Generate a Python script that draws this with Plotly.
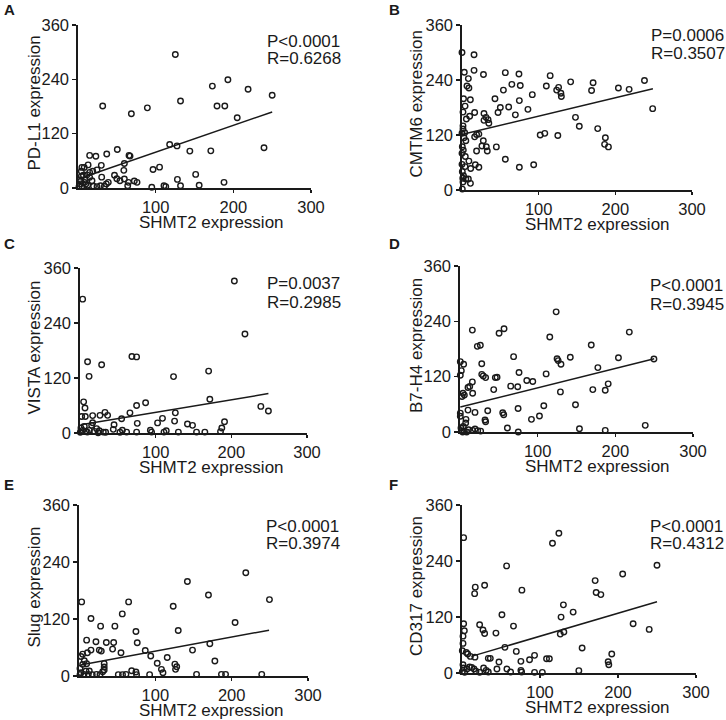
import plotly.graph_objects as go

W, H = 726, 720

# ---------------- data ----------------
x_label = "SHMT2 expression"
y_labels = ["PD-L1 expression", "CMTM6 expression", "VISTA expression",
            "B7-H4 expression", "Slug expression", "CD317 expression"]
panel_letters = ["A", "B", "C", "D", "E", "F"]
p_texts = ["P<0.0001", "P=0.0006", "P=0.0037", "P<0.0001", "P<0.0001", "P<0.0001"]
r_texts = ["R=0.6268", "R=0.3507", "R=0.2985", "R=0.3945", "R=0.3974", "R=0.4312"]
x_ticks = [100, 200, 300]
y_ticks = [0, 120, 240, 360]

a_x = [125.3, 31.8, 68.7, 89.3, 132, 173, 193, 219, 250, 179, 189, 205, 239.5, 171, 144, 118, 127.5,
       105, 96.6, 151.5, 128, 132, 156, 188, 110.7, 113, 95, 50.6, 37, 15, 23, 65.7, 67, 59.7, 30, 59,
       47, 50, 54, 59.7, 65, 72.5, 76, 64, 39, 36.5, 34, 30.5, 24.5, 19, 15, 13, 5, 8, 4.3, 4.3, 7, 11.6,
       3.4, 8.6, 12.4, 20, 24.5, 29, 5, 10, 2, 3, 1.3, 9.4, 18, 15]
a_y = [295, 181, 164, 177, 192, 225, 239, 218, 205, 181, 181, 155, 89, 82, 81.5, 96, 93,
       46, 41, 30, 19, 5, 6, 12.5, 5, 3, 1.5, 85, 75, 72, 70, 72, 70.5, 54, 50, 39,
       28, 20.5, 16, 20, 12.5, 15.4, 12.5, 5, 12.5, 9, 4, 24, 40, 37, 34.5, 51, 45.5, 45.5, 37, 26, 28, 29,
       15, 12.5, 6, 4, 3, 5, 4, 9, 18, 9, 3, 18, 16, 23.5]

b_x = [0, 15.7, 3, 15.7, 28, 8.3, 6.5, 9, 2, 10.9, 4, 1.3, 16.5, 10, 5.7, 28.7, 31.3, 34, 28.7, 35,
       1.3, 1.3, 3.5, 0, 2.6, 5, 16.5, 19, 22, 27.8, 26, 31.7, 33, 19, 44.8, 0.4, 1.7, 0, 4.3, 9, 0, 4,
       17.4, 22, 11.3, 0.4, 2, 1, 5, 8.3, 1.3, 11, 0.4, 56.5, 74.8, 93.5, 43, 47, 50, 54, 56.5, 60.9,
       65, 69.6, 74.3, 76, 74.8, 86, 91.7, 110, 115, 123.5, 126, 129, 129.6, 141.7, 102, 108, 125,
       148, 153, 169, 171, 177, 187, 186, 191, 204, 218, 238, 248.7]
b_y = [300, 295, 257, 261, 252, 243, 227, 222.5, 199, 197, 183, 170, 169, 161, 155, 167, 158.5, 153.5, 152, 145.5,
       140, 133, 125, 124, 114, 107.6, 116, 121, 122, 107.6, 96, 94.5, 85, 85, 94, 94.5, 87, 80, 73, 63, 56, 51,
       55, 49.5, 47, 40, 31, 25.5, 24, 24, 17.5, 14.5, 2, 67, 49.5, 55, 199, 169, 180, 218, 256, 181,
       230.5, 164, 253, 228, 195, 176, 208, 227, 249.5, 218, 224, 211, 204, 236, 120, 123.6, 119,
       158.5, 139, 217, 234, 134, 114, 99.6, 94, 222.5, 219.6, 239, 177.5]

c_x = [204, 3.5, 218, 10, 28.6, 12, 68.6, 74.8, 123.6, 170, 171.6, 239, 249, 4.8, 6.6, 2.2, 7, 16.7,
       26.4, 33, 36.5, 66, 74.8, 86.7, 126, 109, 102.5, 125, 75.7, 55, 45, 142, 148.7, 191, 187.4,
       185.7, 165, 154, 130, 114, 111, 93, 94.6, 74.8, 61.6, 52.8, 44, 56, 30.8, 33.9, 25.5, 22, 19,
       15.4, 16.7, 12.3, 8, 3.5, 1.3, 0.4, 5.7, 9.7, 24]
c_y = [331.6, 292, 216, 155.6, 149, 123.6, 167, 166, 123, 135, 73.5, 58, 48, 68, 54.5, 36, 36, 38,
       38.5, 45, 38.5, 44, 60, 66, 44, 32, 22, 26, 21, 31, 18, 19.6, 16.7, 24.7, 11,
       3, 2, 2, 2, 5, 2, 6, 2, 2, 2, 1.5, 8, 6, 2, 1.5, 5, 9.5, 3.6,
       16.7, 22.5, 5.8, 3, 5.8, 11, 1.5, 14.5, 2, 0.7]

d_x = [123.8, 15.9, 50.3, 56.7, 115.6, 218, 169, 22.3, 26.2, 69, 125, 126.4, 130, 142, 204, 249.7, 177.5,
       0.4, 4.7, 1.7, 0.4, 28, 28, 30, 33, 45.5, 47.7, 76, 110.9, 15.9, 10.3, 12.5, 65.3, 74.3, 43.4,
       86, 93.7, 190.8, 187, 171, 129.3, 16.3, 3.9, 5.6, 2.6, 107.9, 148.7, 10.3, 19.3, 35.7, 55, 56.3,
       74.8, 102.3, 92, 32.2, 33, 0.4, 0.4, 7.7, 7.3, 4.3, 1.3, 2, 5.6, 11, 16.3, 19.3, 22.8, 26.6,
       61, 75, 153.8, 187, 238.5, 3.4, 8.6]
d_y = [260.6, 221, 214, 224, 206, 216.7, 188.6, 185.7, 188, 163.4, 159, 154.8, 147, 162, 161, 158.4, 139.7,
       152.6, 147, 133, 123, 148, 125, 121.7, 118, 118, 118.8, 129, 126, 108.7, 96.5, 98.6, 99.4, 98, 92,
       111.6, 109.4, 104.4, 90.7, 92, 87, 84, 84, 80, 77, 57, 59, 47.5, 42.5, 46, 41.8, 37.4,
       51, 34.6, 27.4, 26, 22.3, 41, 34, 27.4, 19.4, 12, 8.6, 3, 2, 5, 3.6, 6.5, 3, 2,
       8.6, 0, 7.2, 3.6, 14.4, 0, 0]

e_x = [218.5, 142, 169.6, 249.5, 3.5, 65, 123.4, 56.7, 15.7, 28.3, 47, 204.5, 130, 74.6, 10, 22.2,
       35.8, 45.4, 76.3, 171.4, 26.6, 29.2, 15.7, 44, 55, 86.8, 94, 115.6, 148.7, 178, 11, 4.8, 2.6,
       7, 10, 4.8, 33, 33, 33, 31, 102.5, 108, 110, 125.6, 128, 126.5, 74.6, 69, 51.5, 57, 61.5, 75.4,
       92.5, 154, 186.6, 192, 239.4, 1.3, 2.6, 6.5, 9.2, 12.2, 17.4, 23, 27.5, 1.3, 13.5]
e_y = [217.4, 199, 170.6, 160.8, 156, 156, 146.8, 130.7, 121, 104.9, 104.9, 112.5, 95.8, 93.7, 75.5, 72,
       70.6, 70.6, 70, 67.8, 54.5, 52.4, 54.5, 56.6, 49, 53.8, 42, 39, 54.5, 31.5, 49, 46, 41,
       32, 26, 24.5, 26, 19, 12.6, 9, 27, 14, 7, 25, 19.6, 14, 8.4, 11, 2.8, 2.8, 3.5, 2.8,
       2.8, 3.5, 3.5, 3.5, 3.5, 16, 7, 3.5, 10.5, 3.5, 2.8, 3.5, 2.8, 2.8, 10.5]

f_x = [124.2, 116, 2.1, 57.2, 250, 206, 170.7, 172, 178, 29, 17, 16.2, 76.8, 130, 142.5, 51.2, 127,
       2.1, 3, 1.3, 22.6, 66, 219.4, 240, 26.9, 29, 43.5, 130.6, 126, 1.3, 0.4, 5.5, 7.3, 10.7, 16.6,
       55, 69.6, 154, 192, 93, 86.6, 75.5, 108.4, 112, 33.7, 36.3, 47.4, 187.4, 188.2, 1.3, 2.1, 6.4,
       9.8, 12.4, 15.4, 17.9, 22.6, 27.7, 31, 33.7, 44.8, 57.6, 62.3, 75.5, 76.4, 93, 103, 149.8, 0.4, 3.4]
f_y = [299.4, 278, 290, 229.5, 231, 212, 198, 172.5, 168, 188, 184, 170, 177.5, 146, 130.5, 124.8, 119.8,
       105.5, 90.5, 79, 103.4, 100.5, 105.5, 93.4, 92, 84.8, 85.5, 87.7, 83.4, 63.4, 47.8, 44, 40.6, 35.6, 34,
       55, 46.3, 53.5, 40.6, 37.8, 28.5, 25, 30.6, 30.6, 31.4, 31.4, 23.5, 24, 17.8, 17.8, 10.7, 8.6,
       12.8, 12, 8.6, 3.6, 1.4, 10.7, 5.7, 2.1, 8.6, 8.6, 2.1, 5.7, 2.1, 1.4, 1.4, 5, 2.9, 1.4]

# regression lines: [start, end]
fit_a_x, fit_a_y = [2, 250], [21, 168]
fit_b_x, fit_b_y = [1, 249], [121.5, 221]
fit_c_x, fit_c_y = [1, 249], [18, 86]
fit_d_x, fit_d_y = [0.4, 250], [54, 159]
fit_e_x, fit_e_y = [2, 249], [23, 96.5]
fit_f_x, fit_f_y = [12, 250], [35.6, 152.5]

# ---------------- layout geometry (pixels) ----------------
# plot boxes: (left, right, top, bottom)
boxes = [(78, 311, 25, 188), (462, 692, 25, 190),
         (80, 307, 268, 433), (460, 693, 266, 432),
         (79, 308, 505, 676), (462, 696, 505, 673)]
# statistics text: (left x, P line centre y, R line centre y)
stat_pos = [(265, 41, 58.5), (649, 35, 54),
            (265, 284, 302.5), (648, 286, 304.5),
            (264, 526, 543), (648, 526, 543)]

series = [(a_x, a_y, fit_a_x, fit_a_y), (b_x, b_y, fit_b_x, fit_b_y),
          (c_x, c_y, fit_c_x, fit_c_y), (d_x, d_y, fit_d_x, fit_d_y),
          (e_x, e_y, fit_e_x, fit_e_y), (f_x, f_y, fit_f_x, fit_f_y)]

FONT = "Liberation Sans, Arial, sans-serif"
INK = "#1a1a1a"

fig = go.Figure()
layout = dict(
    template="none",
    width=W, height=H, autosize=False,
    margin=dict(l=0, r=0, t=0, b=0, pad=0, autoexpand=False),
    paper_bgcolor="white", plot_bgcolor="white", showlegend=False,
    font=dict(family=FONT, size=17, color=INK),
)
annotations = []


def px(x):
    return x / W


def py(y):
    return 1 - y / H


for i, ((sx, sy, fx, fy), (l, r, t, b), (stx, spy, sry)) in enumerate(zip(series, boxes, stat_pos)):
    suf = "" if i == 0 else str(i + 1)
    fig.add_trace(go.Scatter(
        x=sx, y=sy, mode="markers", xaxis="x" + suf, yaxis="y" + suf,
        cliponaxis=False, hoverinfo="skip",
        marker=dict(symbol="circle-open", size=5.5, color=INK, line=dict(width=1.4, color=INK)),
    ))
    fig.add_trace(go.Scatter(
        x=fx, y=fy, mode="lines", xaxis="x" + suf, yaxis="y" + suf,
        cliponaxis=False, hoverinfo="skip",
        line=dict(color=INK, width=1.5),
    ))
    common = dict(showgrid=False, zeroline=False, showline=True, linecolor=INK, linewidth=1.7,
                  ticks="outside", ticklen=4, tickwidth=1.5, tickcolor=INK, automargin=False,
                  tickfont=dict(family=FONT, size=16.5, color=INK), fixedrange=True)
    layout["xaxis" + suf] = dict(common, domain=[px(l), px(r)], range=[0, 300],
                                  anchor="y" + suf, tickvals=x_ticks, ticklen=3)
    layout["yaxis" + suf] = dict(common, domain=[py(b), py(t)], range=[0, 360],
                                  anchor="x" + suf, tickvals=y_ticks)
    col = i % 2
    row = i // 2
    # axis titles
    annotations.append(dict(text=x_label, xref="paper", yref="paper",
                            x=px(211.5 if col == 0 else 597.5), y=py(b + 34.5),
                            xanchor="center", yanchor="middle", showarrow=False,
                            font=dict(size=17)))
    annotations.append(dict(text=y_labels[i], xref="paper", yref="paper", textangle=-90,
                            x=px(34 if col == 0 else 416), y=py((t + b) / 2 - 3),
                            xanchor="center", yanchor="middle", showarrow=False,
                            font=dict(size=17)))
    # panel letters
    letter_y = [10, 243, 484][row]
    annotations.append(dict(text="<b>" + panel_letters[i] + "</b>", xref="paper", yref="paper",
                            x=px(2 if col == 0 else 387), y=py(letter_y),
                            xanchor="left", yanchor="middle", showarrow=False,
                            font=dict(size=15)))
    # statistics
    annotations.append(dict(text=p_texts[i], xref="paper", yref="paper",
                            x=px(stx), y=py(spy), xanchor="left", yanchor="middle",
                            showarrow=False, font=dict(size=17)))
    annotations.append(dict(text=r_texts[i], xref="paper", yref="paper",
                            x=px(stx), y=py(sry), xanchor="left", yanchor="middle",
                            showarrow=False, font=dict(size=17)))

layout["annotations"] = annotations
fig.update_layout(**layout)
fig.write_html("out.html", config={"displayModeBar": False, "staticPlot": True},
               post_script="document.body.style.margin='0';document.body.style.overflow='hidden';")
